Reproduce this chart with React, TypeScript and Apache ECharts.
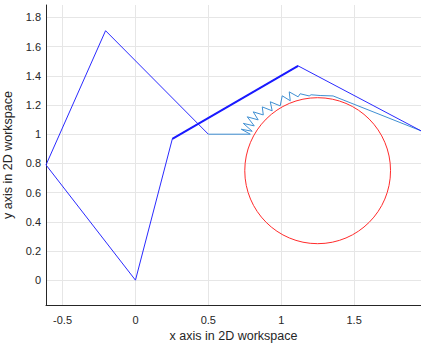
import React, { useEffect, useRef } from "react";
import * as echarts from "echarts";

// Axis ticks and ranges
const xTicks = [-0.5, 0, 0.5, 1, 1.5];
const yTicks = [0, 0.2, 0.4, 0.6, 0.8, 1, 1.2, 1.4, 1.6, 1.8];
const xRange = [-0.6137, 1.959];
const yRange = [-0.17, 1.885];

// Arm at start configuration
const armStartX = [0, -0.6137, -0.205, 0.5];
const armStartY = [0, 0.7895, 1.709, 1.0];

// Arm at end configuration
const armEndX = [0, 0.253, 1.116, 1.959];
const armEndY = [0, 0.968, 1.468, 1.023];

// Overlapping middle link (drawn heavier)
const thickLinkX = [0.253, 1.116];
const thickLinkY = [0.968, 1.468];

// End-effector trajectory
const trajX = [0.5, 0.788, 0.726, 0.801, 0.74, 0.815, 0.767, 0.842, 0.808, 0.877, 0.87, 0.938, 0.925, 0.993, 1.007, 1.062, 1.055, 1.116, 1.13, 1.192, 1.205, 1.267, 1.356, 1.959];
const trajY = [1.0, 1.0, 1.034, 1.02, 1.074, 1.057, 1.119, 1.098, 1.153, 1.132, 1.187, 1.16, 1.222, 1.194, 1.263, 1.229, 1.29, 1.256, 1.277, 1.262, 1.27, 1.265, 1.262, 1.023];

// Obstacle circle
const circleCenter = [1.25, 0.75];
const circleRadius = 0.5;

const pts = (xs: number[], ys: number[]) => xs.map((x, i) => [x, ys[i]]);
const fmt = (v: number) => String(Math.round(v * 10) / 10);

export default function App() {
  const ref = useRef<HTMLDivElement>(null);
  useEffect(() => {
    if (!ref.current) return;
    const chart = echarts.init(ref.current, null, { renderer: "svg" });
    const font = "'Liberation Sans', Arial, sans-serif";
    const axisColor = "#262626";
    chart.setOption({
      animation: false,
      backgroundColor: "#ffffff",
      grid: { left: 46, top: 5, right: 0, bottom: 39, outerBoundsMode: "none", containLabel: false },
      xAxis: {
        type: "value",
        min: xRange[0],
        max: xRange[1],
        name: "x axis in 2D workspace",
        nameLocation: "middle",
        nameGap: 24,
        nameTextStyle: { fontFamily: font, fontSize: 12.5, color: axisColor },
        axisLine: { show: true, onZero: false, lineStyle: { color: axisColor, width: 1 } },
        axisTick: { show: false, customValues: xTicks },
        axisLabel: { customValues: xTicks, formatter: fmt, fontFamily: font, fontSize: 11, color: axisColor, margin: 9 },
        splitLine: { show: true, lineStyle: { color: "#e6e6e6", width: 1 } },
      },
      yAxis: {
        type: "value",
        min: yRange[0],
        max: yRange[1],
        name: "y axis in 2D workspace",
        nameLocation: "middle",
        nameGap: 25,
        nameTextStyle: { fontFamily: font, fontSize: 12.5, color: axisColor },
        axisLine: { show: true, onZero: false, lineStyle: { color: axisColor, width: 1 } },
        axisTick: { show: false, customValues: yTicks },
        axisLabel: { customValues: yTicks, formatter: fmt, fontFamily: font, fontSize: 11, color: axisColor, margin: 5 },
        splitLine: { show: true, lineStyle: { color: "#e6e6e6", width: 1 } },
      },
      series: [
        {
          type: "custom",
          renderItem: (params: any, api: any) => {
            const c = api.coord([api.value(0), api.value(1)]);
            const s = api.size([api.value(2), api.value(2)]);
            return {
              type: "ellipse",
              shape: { cx: c[0], cy: c[1], rx: s[0], ry: s[1] },
              style: { fill: "none", stroke: "#ff2b2b", lineWidth: 1 },
            };
          },
          data: [[circleCenter[0], circleCenter[1], circleRadius]],
          clip: true,
          z: 2,
        },
        {
          type: "line",
          data: pts(trajX, trajY),
          symbol: "none",
          lineStyle: { color: "#3f8fd2", width: 1 },
          clip: true,
          z: 3,
        },
        {
          type: "line",
          data: pts(armStartX, armStartY),
          symbol: "none",
          lineStyle: { color: "#2a2aff", width: 1 },
          clip: true,
          z: 4,
        },
        {
          type: "line",
          data: pts(armEndX, armEndY),
          symbol: "none",
          lineStyle: { color: "#2a2aff", width: 1 },
          clip: true,
          z: 4,
        },
        {
          type: "line",
          data: pts(thickLinkX, thickLinkY),
          symbol: "none",
          lineStyle: { color: "#1a1aff", width: 2 },
          clip: true,
          z: 5,
        },
      ],
    });
    return () => chart.dispose();
  }, []);
  return (
    <div
      ref={ref}
      style={{ position: "absolute", left: 0, top: 0, width: 421, height: 344 }}
    />
  );
}
